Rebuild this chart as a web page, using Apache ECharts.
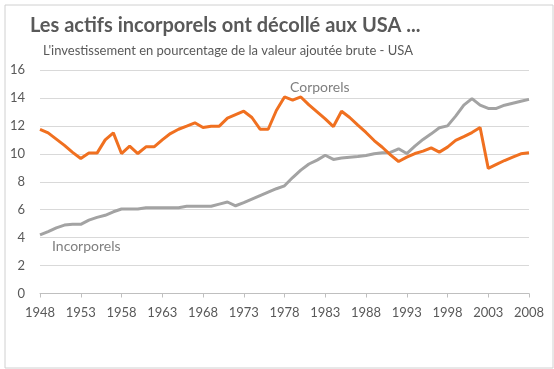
<!DOCTYPE html>
<html>
<head>
<meta charset="utf-8">
<script src="https://cdn.jsdelivr.net/npm/echarts@6/dist/echarts.min.js"></script>
<style>
html,body{margin:0;padding:0;background:#fff;}
#chart{width:554px;height:369px;}
</style>
</head>
<body>
<div id="chart"></div>
<script>
const years = [];
for (let y = 1948; y <= 2008; y++) years.push(String(y));

const corporels = [
  11.75, 11.5, 11.05, 10.6, 10.1, 9.66, 10.05, 10.05, 11.0, 11.5,
  10.02, 10.55, 10.02, 10.5, 10.5, 11.0, 11.45, 11.76, 11.98, 12.22,
  11.88, 11.98, 11.98, 12.55, 12.8, 13.05, 12.6, 11.76, 11.76, 13.1,
  14.07, 13.85, 14.07, 13.5, 13.0, 12.5, 11.95, 13.05, 12.6, 12.05,
  11.53, 10.95, 10.47, 9.93, 9.45, 9.76, 10.02, 10.19, 10.43, 10.12,
  10.48, 10.96, 11.23, 11.52, 11.88, 8.96, 9.24, 9.52, 9.76, 10.0,
  10.07
];

const incorporels = [
  4.19, 4.43, 4.7, 4.9, 4.95, 4.95, 5.25, 5.45, 5.6, 5.85,
  6.05, 6.05, 6.05, 6.14, 6.14, 6.14, 6.14, 6.14, 6.25, 6.25,
  6.25, 6.25, 6.4, 6.55, 6.28, 6.5, 6.75, 7.0, 7.25, 7.5,
  7.71, 8.3, 8.83, 9.27, 9.55, 9.9, 9.6, 9.7, 9.76, 9.8,
  9.88, 10.0, 10.07, 10.1, 10.36, 10.02, 10.55, 11.03, 11.43, 11.86,
  12.0, 12.7, 13.48, 13.95, 13.48, 13.25, 13.25, 13.48, 13.62, 13.76,
  13.9
];

const yTicks = { min: 0, max: 16, interval: 2 };

const chart = echarts.init(document.getElementById('chart'), null, { renderer: 'canvas' });
const FONT = 'Lato, "Open Sans", sans-serif';
chart.setOption({
  backgroundColor: '#ffffff',
  animation: false,
  title: [
    {
      text: 'Les actifs incorporels ont décollé aux USA ...',
      left: 25, top: 11,
      textStyle: { fontFamily: FONT, fontSize: 20, fontWeight: 'bold', color: '#595959' }
    },
    {
      text: "L'investissement en pourcentage de la valeur ajoutée brute - USA",
      left: 38, top: 39,
      textStyle: { fontFamily: FONT, fontSize: 13, fontWeight: 'normal', color: '#595959' }
    }
  ],
  grid: { left: 40, right: 25, top: 70, bottom: 75.5, containLabel: false },
  xAxis: {
    type: 'category',
    data: years,
    boundaryGap: false,
    axisLine: { show: true, lineStyle: { color: '#bfbfbf', width: 1 } },
    axisTick: { show: true, interval: 4, length: 4, lineStyle: { color: '#bfbfbf' } },
    axisLabel: { interval: 4, margin: 13, fontFamily: FONT, fontSize: 13, color: '#595959' },
    splitLine: { show: false }
  },
  yAxis: {
    type: 'value',
    min: yTicks.min, max: yTicks.max, interval: yTicks.interval,
    axisLine: { show: false },
    axisTick: { show: false },
    axisLabel: { margin: 15, fontFamily: FONT, fontSize: 13, color: '#595959' },
    splitLine: { show: true, lineStyle: { color: '#d9d9d9', width: 1 } }
  },
  series: [
    {
      name: 'Corporels', type: 'line', data: corporels, symbol: 'none',
      lineStyle: { color: '#F07020', width: 3 }, z: 3
    },
    {
      name: 'Incorporels', type: 'line', data: incorporels, symbol: 'none',
      lineStyle: { color: '#a3a3a3', width: 3 }, z: 2
    }
  ],
  graphic: [
    {
      type: 'rect', left: 2.5, top: 2.5,
      shape: { width: 548, height: 363 },
      style: { fill: 'none', stroke: '#d0d0d0', lineWidth: 1 },
      silent: true
    },
    {
      type: 'text', left: 290, top: 80,
      style: { text: 'Corporels', font: '14px ' + FONT, fill: '#7f7f7f' }
    },
    {
      type: 'text', left: 52, top: 239,
      style: { text: 'Incorporels', font: '14px ' + FONT, fill: '#7f7f7f' }
    }
  ]
});
</script>
</body>
</html>
